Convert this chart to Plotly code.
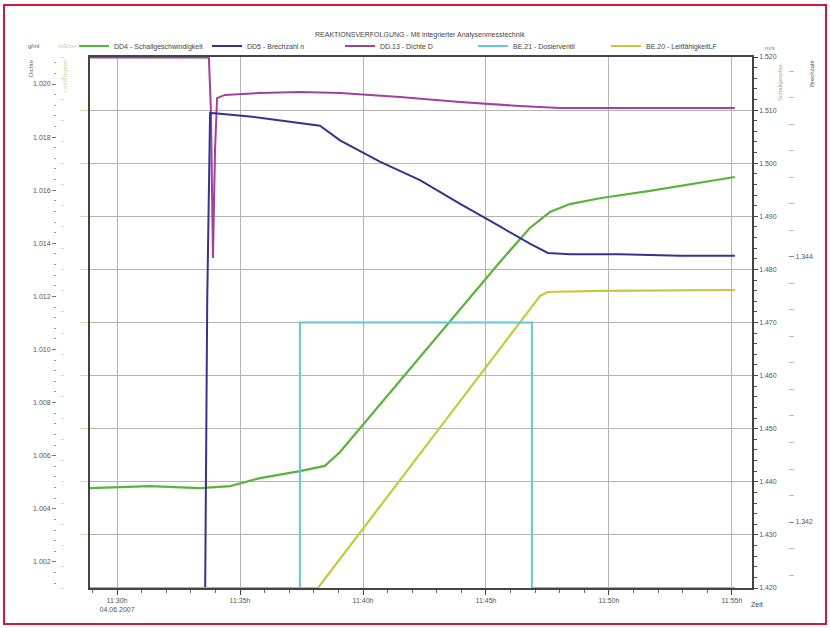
import plotly.graph_objects as go

DATE = "2007-06-04 "

# ---- data ----
green_t = ["11:28:54", "11:31:20", "11:33:22", "11:34:36", "11:35:49", "11:37:26", "11:38:27",
           "11:39:04", "11:40:41", "11:42:19", "11:43:57", "11:45:34", "11:46:47", "11:47:36",
           "11:48:25", "11:49:38", "11:51:40", "11:53:42", "11:55:07"]
green_v = [1438.8, 1439.2, 1438.8, 1439.2, 1440.7, 1442.0, 1443.0, 1445.6, 1454.5, 1463.5,
           1472.7, 1481.4, 1487.8, 1490.8, 1492.3, 1493.4, 1494.8, 1496.3, 1497.4]

blue_t = ["11:28:54", "11:33:35", "11:33:40", "11:33:47", "11:34:11", "11:35:24", "11:37:02",
          "11:38:15", "11:39:04", "11:40:41", "11:42:19", "11:43:57", "11:45:34", "11:46:47",
          "11:47:31", "11:48:25", "11:50:27", "11:52:53", "11:55:07"]
blue_v = [1.34150, 1.34150, 1.34368, 1.345087, 1.34508, 1.34506, 1.34502, 1.34499, 1.34488,
          1.34472, 1.34458, 1.34440, 1.34423, 1.34410, 1.34403, 1.34402, 1.34402, 1.34401, 1.34401]

purple_t = ["11:28:54", "11:33:44", "11:33:49", "11:33:54", "11:33:59", "11:34:04", "11:34:23",
            "11:35:49", "11:37:26", "11:39:04", "11:41:30", "11:43:57", "11:46:23", "11:48:00",
            "11:51:40", "11:55:07"]
purple_v = [1.0210, 1.0210, 1.01902, 1.01345, 1.01751, 1.01947, 1.01959, 1.01966, 1.01970,
            1.01966, 1.01951, 1.01932, 1.01917, 1.01910, 1.01910, 1.01910]

cyan_t = ["11:28:54", "11:37:26", "11:37:26", "11:46:52", "11:46:52", "11:55:07"]
cyan_v = [0, 0, 50, 50, 0, 0]

yellow_t = ["11:28:54", "11:38:10", "11:47:12", "11:47:31", "11:49:38", "11:55:07"]
yellow_v = [0.0, 0.0, 27.50, 27.87, 27.97, 28.06]

x_ticks = ["11:30", "11:35", "11:40", "11:45", "11:50", "11:55"]
x_ticktext = ["11:30h<br>04.06.2007", "11:35h", "11:40h", "11:45h", "11:50h", "11:55h"]

dichte_ticks = [1.002, 1.004, 1.006, 1.008, 1.010, 1.012, 1.014, 1.016, 1.018, 1.020]
schall_ticks = [1420, 1430, 1440, 1450, 1460, 1470, 1480, 1490, 1500, 1510, 1520]
brech_ticks = [1.342, 1.344]

names = ["DD4 - Schallgeschwindigkeit", "DD5 - Brechzahl n", "DD.13 - Dichte D",
         "BE.21 - Dosierventil", "BE.20 - LeitfähigkeitLF"]

# ---- layout helpers ----
W, H = 830, 628
ML, MR, MT, MB = 4, 4, 5, 4
PW, PH = W - ML - MR, H - MT - MB


def fx(px):
    return (px - ML) / PW


def fy(py):
    return 1 - (py - MT) / PH


def ts(t):
    return DATE + t


FONT = "Liberation Sans, Arial, sans-serif"
GREEN, BLUE, PURPLE, CYAN, YELLOW = "#5ab43c", "#34348e", "#a2409e", "#62c8d8", "#c8c83c"
AX = "#555555"
GRID = "#b4b4b4"

fig = go.Figure()
fig.add_trace(go.Scatter(x=[ts(t) for t in green_t], y=green_v, name=names[0], yaxis="y2",
                         mode="lines", line=dict(color=GREEN, width=2.2)))
fig.add_trace(go.Scatter(x=[ts(t) for t in blue_t], y=blue_v, name=names[1], yaxis="y3",
                         mode="lines", line=dict(color=BLUE, width=2)))
fig.add_trace(go.Scatter(x=[ts(t) for t in purple_t], y=purple_v, name=names[2], yaxis="y",
                         mode="lines", line=dict(color=PURPLE, width=2)))
fig.add_trace(go.Scatter(x=[ts(t) for t in cyan_t], y=cyan_v, name=names[3], yaxis="y5",
                         mode="lines", line=dict(color=CYAN, width=2)))
fig.add_trace(go.Scatter(x=[ts(t) for t in yellow_t], y=yellow_v, name=names[4], yaxis="y4",
                         mode="lines", line=dict(color=YELLOW, width=2.2)))

xd = [fx(90), fx(752)]
yd = [fy(588), fy(57)]

fig.update_layout(
    width=W, height=H, autosize=False,
    margin=dict(l=ML, r=MR, t=MT, b=MB, autoexpand=False),
    paper_bgcolor="white", plot_bgcolor="white",
    font=dict(family=FONT, size=7, color=AX),
    showlegend=True,
    legend=dict(orientation="h", x=fx(74), y=fy(46), xanchor="left", yanchor="middle",
                font=dict(size=7, color="#444"), entrywidth=88, entrywidthmode="pixels",
                itemwidth=30, bgcolor="rgba(0,0,0,0)", tracegroupgap=0),
    xaxis=dict(type="date", domain=xd, anchor="y4", automargin=False,
               range=[ts("11:28:54"), ts("11:55:49")],
               tickvals=[ts(t + ":00") for t in x_ticks], ticktext=x_ticktext,
               showgrid=True, gridcolor=GRID, gridwidth=1,
               showline=True, linecolor="#444", linewidth=1.5, mirror=True,
               ticks="outside", ticklen=5, tickcolor="#444",
               minor=dict(dtick=60000, ticks="outside", ticklen=3, tickcolor="#666", showgrid=False),
               tickfont=dict(size=7, color=AX), zeroline=False),
    yaxis=dict(domain=yd, range=[1.001017, 1.021017], anchor="free", position=fx(56), side="left",
               automargin=False,
               tickvals=dichte_ticks, ticktext=["%.3f" % v for v in dichte_ticks],
               showgrid=False, zeroline=False, showline=False,
               ticks="outside", ticklen=4, tickcolor="#777",
               minor=dict(dtick=0.0004, ticks="outside", ticklen=2, tickcolor="#999"),
               tickfont=dict(size=7, color=AX)),
    yaxis2=dict(range=[1420, 1520], overlaying="y", anchor="x", side="right", automargin=False,
                tickvals=schall_ticks,
                ticktext=["%d.%03d" % (v // 1000, v % 1000) for v in schall_ticks],
                showgrid=True, gridcolor=GRID, gridwidth=1, zeroline=False,
                showline=True, linecolor="#444", linewidth=1.5,
                ticks="outside", ticklen=4, tickcolor="#444",
                minor=dict(dtick=2, ticks="outside", ticklen=3, tickcolor="#555"),
                tickfont=dict(size=7, color=AX)),
    yaxis3=dict(range=[1.341502, 1.345509], overlaying="y", anchor="free", position=fx(788),
                side="right", automargin=False,
                tickvals=brech_ticks, ticktext=["%.3f" % v for v in brech_ticks],
                showgrid=False, zeroline=False, showline=False,
                ticks="outside", ticklen=5, tickcolor="#888",
                minor=dict(dtick=0.0002, ticks="outside", ticklen=5, tickcolor="#bbb"),
                tickfont=dict(size=7, color=AX)),
    yaxis4=dict(range=[0, 50], overlaying="y", anchor="x", side="left", automargin=False,
                tickvals=[5, 10, 15, 20, 25, 30, 35, 40, 45], ticktext=[""] * 9,
                showgrid=False, zeroline=False,
                showline=True, linecolor="#444", linewidth=1.5,
                ticks="outside", ticklen=8, tickcolor="#d6dcaa",
                tickfont=dict(size=6, color="#cfd79a")),
    yaxis5=dict(range=[0, 100], overlaying="y", anchor="free", position=fx(64), side="left",
                automargin=False,
                showticklabels=False, showgrid=False, zeroline=False, showline=False,
                ticks="outside", ticklen=3, tickcolor="#dde0b0", dtick=4),
)

ann = []


def add_text(px, py, text, color=AX, size=7, angle=0, xanchor="center", yanchor="middle"):
    ann.append(dict(x=fx(px), y=fy(py), xref="paper", yref="paper", text=text, showarrow=False,
                    font=dict(size=size, color=color, family=FONT), textangle=angle,
                    xanchor=xanchor, yanchor=yanchor))


add_text(420, 35, "REAKTIONSVERFOLGUNG - Mit integrierter Analysenmesstechnik", "#444", 7)
add_text(33, 46, "g/ml", "#555", 6)
add_text(31, 68, "Dichte", "#666", 6, -90)
add_text(67, 46, "mS/cm", "#c9cf8a", 6)
add_text(65, 76, "Leitfähigkeit", "#d0d69a", 6, -90)
add_text(770, 48, "m/s", "#6a8a5a", 6)
add_text(780, 82, "Schallgeschw.", "#9ab08a", 6, -90)
add_text(812, 74, "Brechzahl", "#555", 6, -90)
add_text(757, 604, "Zeit", "#444", 7)

fig.update_layout(annotations=ann)

fig.add_shape(type="rect", xref="paper", yref="paper", x0=0, y0=0, x1=1, y1=1,
              line=dict(color="#d0183c", width=2), layer="above")

fig.write_html("out.html", config={"responsive": False, "displayModeBar": False},
               post_script="document.body.style.margin='0px';document.body.style.padding='0px';")
